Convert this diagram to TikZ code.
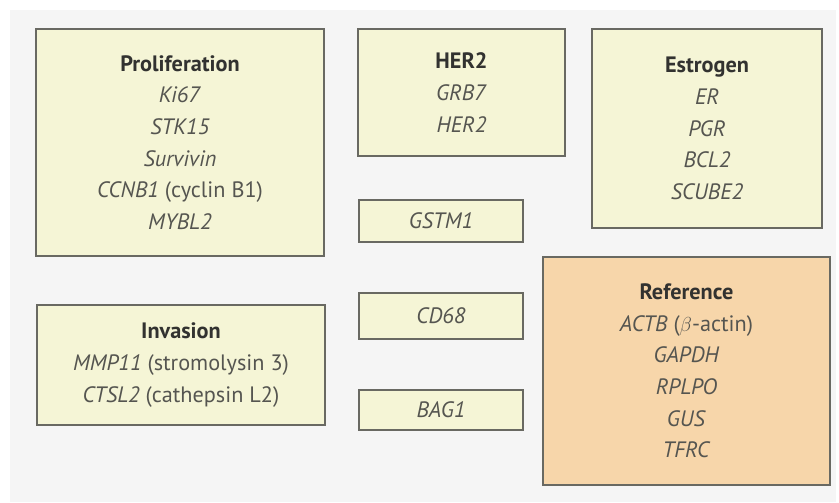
\documentclass[tikz,border=0pt]{standalone}
\usepackage{fontspec}
\setmainfont{PT Sans}
\usepackage{tikz}

\definecolor{boxfill}{RGB}{245,245,214}
\definecolor{reffill}{RGB}{247,214,170}
\definecolor{boxline}{RGB}{105,105,98}
\definecolor{genetext}{RGB}{85,85,80}
\definecolor{headtext}{RGB}{50,50,48}
\definecolor{panel}{RGB}{245,245,245}

\newcommand{\grp}[1]{\textbf{\color{headtext}#1}}

\begin{document}
\begin{tikzpicture}[x=0.03cm,y=-0.03cm,
  genebox/.style={draw=boxline,line width=1.6pt,fill=boxfill,align=center,
    text=genetext,inner sep=0pt,
    font=\fontsize{19}{27}\selectfont},
  refbox/.style={genebox,fill=reffill}]
  \useasboundingbox (0,0) rectangle (839,502);
  \fill[panel] (10,10) rectangle (836,502);
  \node[genebox,minimum width=8.64cm,minimum height=6.81cm] (prolif) at (180,142.5)
    {\grp{Proliferation}\\\textit{Ki67}\\\textit{STK15}\\\textit{Survivin}\\\textit{CCNB1} (cyclin B1)\\\textit{MYBL2}};
  \node[genebox,minimum width=6.21cm,minimum height=3.81cm] (her2) at (461.5,92.5)
    {\grp{HER2}\\\textit{GRB7}\\\textit{HER2}};
  \node[genebox,minimum width=6.9cm,minimum height=5.97cm] (estrogen) at (707,128.5)
    {\grp{Estrogen}\\\textit{ER}\\\textit{PGR}\\\textit{BCL2}\\\textit{SCUBE2}};
  \node[genebox,minimum width=4.92cm,minimum height=1.26cm] (gstm1) at (441,221) {\textit{GSTM1}};
  \node[genebox,minimum width=4.92cm,minimum height=1.38cm] (cd68) at (441,316) {\textit{CD68}};
  \node[genebox,minimum width=4.92cm,minimum height=1.2cm] (bag1) at (441,410) {\textit{BAG1}};
  \node[genebox,minimum width=8.64cm,minimum height=3.6cm] (invasion) at (181,365)
    {\grp{Invasion}\\\textit{MMP11} (stromolysin 3)\\\textit{CTSL2} (cathepsin L2)};
  \node[refbox,minimum width=8.61cm,minimum height=6.84cm] (reference) at (686.5,371)
    {\grp{Reference}\\\textit{ACTB} ($\beta$-actin)\\\textit{GAPDH}\\\textit{RPLPO}\\\textit{GUS}\\\textit{TFRC}};
\end{tikzpicture}
\end{document}
